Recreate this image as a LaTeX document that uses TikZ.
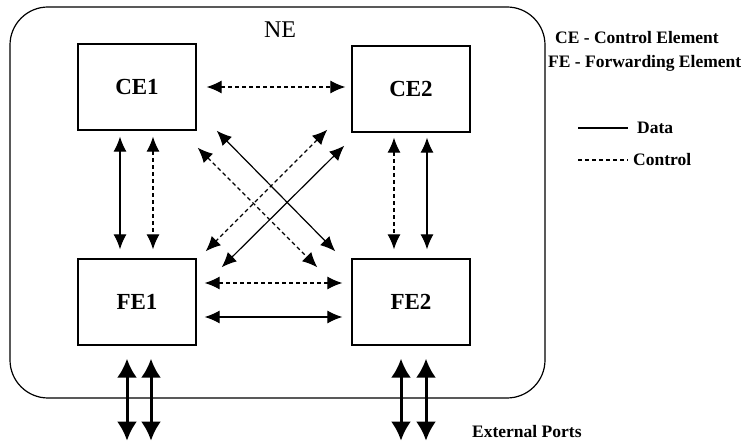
\documentclass[tikz,border=0pt]{standalone}
\usepackage{fontspec}
\setmainfont{Liberation Serif}
\usetikzlibrary{arrows.meta,calc}

\begin{document}
\begin{tikzpicture}[x=1pt, y=-1pt, >={Latex[length=15pt,width=13pt]},
  elem/.style={draw, line width=1.3pt, minimum width=118pt, minimum height=86pt,
    font=\fontsize{23}{27}\selectfont\bfseries},
  data/.style={<->, line width=1.2pt},
  ctrl/.style={<->, line width=1.2pt, dash pattern=on 4pt off 3pt},
  port/.style={{Latex[length=19pt,width=20pt]}-{Latex[length=19pt,width=20pt]}, line width=3pt},
  legend/.style={anchor=west, inner sep=0pt, font=\fontsize{17.5}{20}\selectfont\bfseries}]
\useasboundingbox (0,0) rectangle (745,443);

% network element
\draw[line width=1.2pt, rounded corners=38pt] (10,7) rectangle (545,398);
\node (ne) at (280,30) {\fontsize{24}{28}\selectfont NE};

\node[elem] (CE1) at (137,87) {CE1};
\node[elem] (CE2) at (411,89) {CE2};
\node[elem] (FE1) at (137,302) {FE1};
\node[elem] (FE2) at (411,302) {FE2};

% CE - CE and FE - FE
\draw[ctrl] ($(CE1.east)+(10,0)$) -- ($(CE1.east -| CE2.west)+(-6,0)$);
\draw[ctrl] ($(FE1.east)+(8,-19)$) -- ($(FE2.west)+(-9,-19)$);
\draw[data] ($(FE1.east)+(8,15)$) -- ($(FE2.west)+(-9,15)$);

% CE - FE, same side
\draw[data] ($(CE1.south)+(-17,6)$) -- ($(FE1.north)+(-17,-9)$);
\draw[ctrl] ($(CE1.south)+(16,6)$) -- ($(FE1.north)+(16,-9)$);
\draw[ctrl] ($(CE2.south)+(-17,5)$) -- ($(FE2.north)+(-17,-9)$);
\draw[data] ($(CE2.south)+(16,5)$) -- ($(FE2.north)+(16,-9)$);

% CE - FE, crossing
\draw[data] ($(CE1.south east)+(20,0)$) -- ($(FE2.north west)+(-16,-7)$);
\draw[ctrl] ($(CE1.south east)+(1,17)$) -- ($(FE2.north west)+(-34,9)$);
\draw[ctrl] ($(CE2.south west)+(-24,-3)$) -- ($(FE1.north east)+(9,-7)$);
\draw[data] ($(CE2.south west)+(-7,13)$) -- ($(FE1.north east)+(25,9)$);

% external ports
\draw[port] ($(FE1.south)+(-10,13)$) -- ($(FE1.south)+(-10,95)$);
\draw[port] ($(FE1.south)+(14,13)$) -- ($(FE1.south)+(14,95)$);
\draw[port] ($(FE2.south)+(-10,13)$) -- ($(FE2.south)+(-10,95)$);
\draw[port] ($(FE2.south)+(15,13)$) -- ($(FE2.south)+(15,95)$);
\node[legend] (ports) at (472,432) {External Ports};

% legend
\node[legend] (ce) at (555,38) {CE - Control Element};
\node[legend] (fe) at (548,63) {FE - Forwarding Element};
\coordinate (d1) at (578,128);
\coordinate (d2) at (628,128);
\coordinate (c1) at (578,160);
\coordinate (c2) at (628,160);
\draw[line width=1.1pt] (d1) -- (d2);
\draw[line width=1.1pt, dash pattern=on 4pt off 3pt] (c1) -- (c2);
\node[legend] (data) at ($(d2)+(9,0)$) {Data};
\node[legend] (ctrl) at ($(c2)+(5,0)$) {Control};
\end{tikzpicture}
\end{document}
